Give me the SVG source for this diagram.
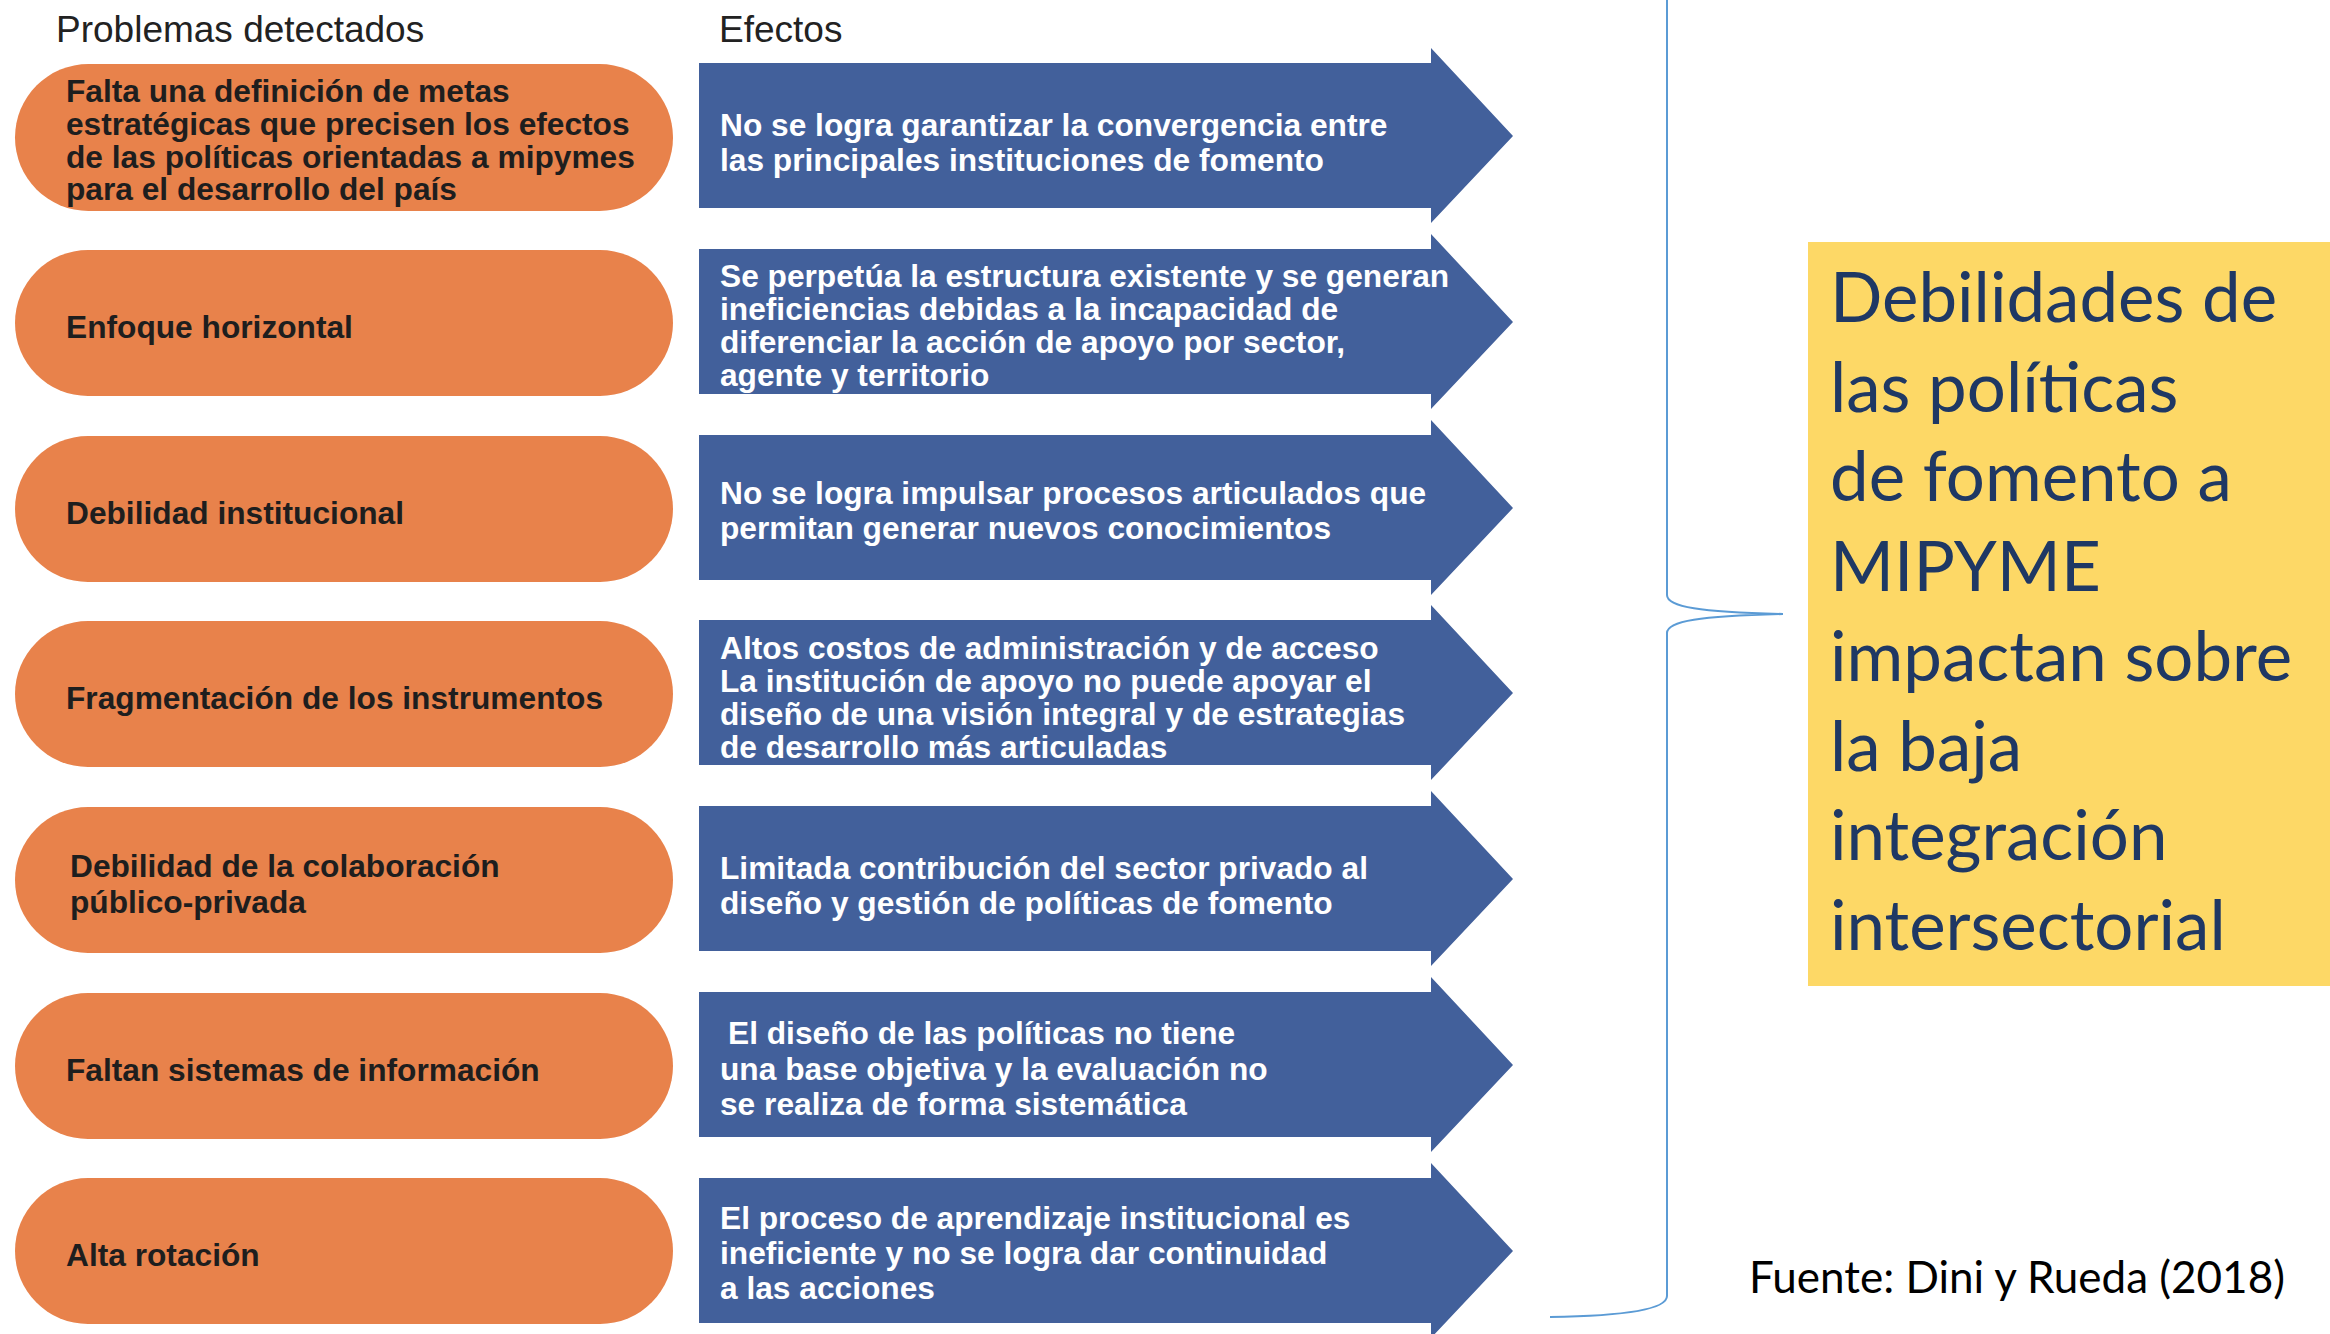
<svg xmlns="http://www.w3.org/2000/svg" width="2330" height="1334" viewBox="0 0 2330 1334">
<defs>
<style>
.hdr{font-family:"Liberation Sans",Arial,sans-serif;font-size:37px;fill:#222222}
.pill{fill:#E8824B}
.arrow{fill:#42609B}
.pt{font-family:"Liberation Sans",Arial,sans-serif;font-weight:bold;font-size:31.7px;fill:#1E1E1E}
.at{font-family:"Liberation Sans",Arial,sans-serif;font-weight:bold;font-size:31.7px;fill:#FFFFFF}
.yt{font-family:Lato,"Open Sans",sans-serif;font-size:69px;fill:#1F3864}
.src{font-family:Lato,"Open Sans",sans-serif;font-size:44px;fill:#000000}
.brace{fill:none;stroke:#5B9BD5;stroke-width:2}
</style>
<path id="arrowShape" d="M0,0 H732 V-15 L814,73 L732,160 V145 H0 Z"/>
</defs>
<rect width="2330" height="1334" fill="#FFFFFF"/>

<g id="headers">
<text class="hdr" x="56" y="42">Problemas detectados</text>
<text class="hdr" x="719" y="42">Efectos</text>
</g>

<g id="problems">
<g id="p1"><rect class="pill" x="15" y="64" width="658" height="147" rx="73.5"/>
<text class="pt" x="66" y="102">Falta una definición de metas</text>
<text class="pt" x="66" y="135">estratégicas que precisen los efectos</text>
<text class="pt" x="66" y="168">de las políticas orientadas a mipymes</text>
<text class="pt" x="66" y="200">para el desarrollo del país</text></g>
<g id="p2"><rect class="pill" x="15" y="250" width="658" height="146" rx="73"/>
<text class="pt" x="66" y="338">Enfoque horizontal</text></g>
<g id="p3"><rect class="pill" x="15" y="436" width="658" height="146" rx="73"/>
<text class="pt" x="66" y="524">Debilidad institucional</text></g>
<g id="p4"><rect class="pill" x="15" y="621" width="658" height="146" rx="73"/>
<text class="pt" x="66" y="709">Fragmentación de los instrumentos</text></g>
<g id="p5"><rect class="pill" x="15" y="807" width="658" height="146" rx="73"/>
<text class="pt" x="70" y="877">Debilidad de la colaboración</text>
<text class="pt" x="70" y="913">público-privada</text></g>
<g id="p6"><rect class="pill" x="15" y="993" width="658" height="146" rx="73"/>
<text class="pt" x="66" y="1081">Faltan sistemas de información</text></g>
<g id="p7"><rect class="pill" x="15" y="1178" width="658" height="146" rx="73"/>
<text class="pt" x="66" y="1266">Alta rotación</text></g>
</g>

<g id="effects">
<g id="e1"><use href="#arrowShape" class="arrow" transform="translate(699,63)"/>
<text class="at" x="720" y="136">No se logra garantizar la convergencia entre</text>
<text class="at" x="720" y="171">las principales instituciones de fomento</text></g>
<g id="e2"><use href="#arrowShape" class="arrow" transform="translate(699,249)"/>
<text class="at" x="720" y="287">Se perpetúa la estructura existente y se generan</text>
<text class="at" x="720" y="320">ineficiencias debidas a la incapacidad de</text>
<text class="at" x="720" y="353">diferenciar la acción de apoyo por sector,</text>
<text class="at" x="720" y="386">agente y territorio</text></g>
<g id="e3"><use href="#arrowShape" class="arrow" transform="translate(699,435)"/>
<text class="at" x="720" y="504">No se logra impulsar procesos articulados que</text>
<text class="at" x="720" y="539">permitan generar nuevos conocimientos</text></g>
<g id="e4"><use href="#arrowShape" class="arrow" transform="translate(699,620)"/>
<text class="at" x="720" y="659">Altos costos de administración y de acceso</text>
<text class="at" x="720" y="692">La institución de apoyo no puede apoyar el</text>
<text class="at" x="720" y="725">diseño de una visión integral y de estrategias</text>
<text class="at" x="720" y="758">de desarrollo más articuladas</text></g>
<g id="e5"><use href="#arrowShape" class="arrow" transform="translate(699,806)"/>
<text class="at" x="720" y="879">Limitada contribución del sector privado al</text>
<text class="at" x="720" y="914">diseño y gestión de políticas de fomento</text></g>
<g id="e6"><use href="#arrowShape" class="arrow" transform="translate(699,992)"/>
<text class="at" x="728" y="1044">El diseño de las políticas no tiene</text>
<text class="at" x="720" y="1080">una base objetiva y la evaluación no</text>
<text class="at" x="720" y="1115">se realiza de forma sistemática</text></g>
<g id="e7"><use href="#arrowShape" class="arrow" transform="translate(699,1178)"/>
<text class="at" x="720" y="1229">El proceso de aprendizaje institucional es</text>
<text class="at" x="720" y="1264">ineficiente y no se logra dar continuidad</text>
<text class="at" x="720" y="1299">a las acciones</text></g>
</g>

<g id="connectors">
<path class="brace" d="M1667,0 V595 C1667,607 1700,612 1783,614 C1700,616 1667,621 1667,633 V1296 C1667,1310 1620,1316 1550,1317"/>
</g>

<g id="summary">
<rect x="1808" y="242" width="522" height="744" fill="#FDD866"/>
<text class="yt" x="1830" y="322">Debilidades de</text>
<text class="yt" x="1830" y="412">las políticas</text>
<text class="yt" x="1830" y="501">de fomento a</text>
<text class="yt" x="1830" y="591">MIPYME</text>
<text class="yt" x="1830" y="681">impactan sobre</text>
<text class="yt" x="1830" y="771">la baja</text>
<text class="yt" x="1830" y="860">integración</text>
<text class="yt" x="1830" y="950">intersectorial</text>
</g>

<g id="source">
<text class="src" x="1749" y="1293">Fuente: Dini y Rueda (2018)</text>
</g>
</svg>
